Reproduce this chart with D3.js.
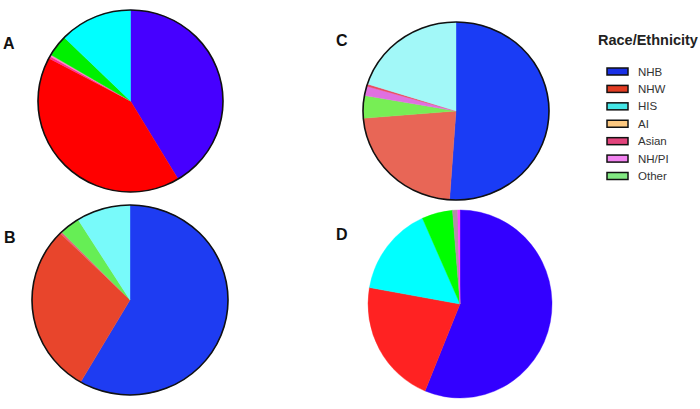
<!DOCTYPE html>
<html>
<head>
<meta charset="utf-8">
<script src="https://cdn.jsdelivr.net/npm/d3@7"></script>
<style>
  body { margin: 0; background: #fff; }
  text { font-family: "Liberation Sans", Arial, sans-serif; }
</style>
</head>
<body>
<script>
// legend
var legendLabels = ["NHB", "NHW", "HIS", "AI", "Asian", "NH/PI", "Other"];
var legendColors = ["#1a30e6", "#e23c22", "#44e6e6", "#fcc880", "#e2447c", "#f283f0", "#82e882"];

// panel A (percent, clockwise from 12 o'clock)
var pieA_groups = ["NHB", "NHW", "Asian", "NH/PI", "Other", "HIS"];
var pieA_values = [41.4, 41.4, 0.4, 0.3, 3.8, 12.7];
var pieA_colors = ["#4600ff", "#ff0000", "#ff2a90", "#ff88c8", "#00f000", "#00ffff"];

// panel B
var pieB_groups = ["NHB", "NHW", "Asian", "Other", "HIS"];
var pieB_values = [58.4, 29.0, 0.3, 3.4, 8.9];
var pieB_colors = ["#1e3cf2", "#e8452c", "#ea5a78", "#66ee55", "#78fafa"];

// panel C
var pieC_groups = ["NHB", "NHW", "Other", "NH/PI", "Asian", "HIS"];
var pieC_values = [51.1, 22.6, 4.1, 1.7, 0.4, 20.1];
var pieC_colors = ["#1a3cf5", "#e86656", "#77ee55", "#e070e0", "#ea4a62", "#a2f8f8"];

// panel D
var pieD_groups = ["NHB", "NHW", "HIS", "Other", "AI", "NH/PI"];
var pieD_values = [56.2, 21.6, 15.5, 5.4, 0.9, 0.4];
var pieD_colors = ["#3300ff", "#ff2222", "#00ffff", "#00ff00", "#b48ea8", "#ff44ff"];

var width = 700, height = 409;

var svg = d3.select("body").append("svg")
    .attr("width", width)
    .attr("height", height);

var panels = [
  {name: "A", groups: pieA_groups, values: pieA_values, colors: pieA_colors,
   cx: 130.5, cy: 101, rx: 92.5, ry: 91, outline: true, lx: 3, ly: 49},
  {name: "B", groups: pieB_groups, values: pieB_values, colors: pieB_colors,
   cx: 130, cy: 300, rx: 98, ry: 95, outline: true, lx: 4, ly: 243},
  {name: "C", groups: pieC_groups, values: pieC_values, colors: pieC_colors,
   cx: 456, cy: 111, rx: 93, ry: 89, outline: true, lx: 336, ly: 46},
  {name: "D", groups: pieD_groups, values: pieD_values, colors: pieD_colors,
   cx: 460, cy: 304, rx: 92, ry: 94, outline: false, lx: 336, ly: 240}
];

var pie = d3.pie().sort(null).value(function(d) { return d.v; });

panels.forEach(function(p) {
  var data = p.values.map(function(v, i) { return {g: p.groups[i], v: v, c: p.colors[i]}; });
  var arc = d3.arc().innerRadius(0).outerRadius(p.rx);

  var g = svg.append("g")
      .attr("transform", "translate(" + p.cx + "," + p.cy + ") scale(1," + (p.ry / p.rx) + ")");

  g.selectAll("path.slice")
    .data(pie(data))
    .enter().append("path")
      .attr("class", "slice")
      .attr("d", arc)
      .attr("fill", function(d) { return d.data.c; })
      .attr("stroke", function(d) { return d.data.c; })
      .attr("stroke-width", 0.4);

  if (p.outline) {
    g.append("circle")
      .attr("r", p.rx)
      .attr("fill", "none")
      .attr("stroke", "#111")
      .attr("stroke-width", 1.6);
  }

  svg.append("text")
    .attr("x", p.lx)
    .attr("y", p.ly)
    .attr("font-size", "16px")
    .attr("font-weight", "bold")
    .attr("fill", "#111")
    .text(p.name);
});

// legend
svg.append("text")
  .attr("x", 598)
  .attr("y", 45)
  .attr("font-size", "14.5px")
  .attr("font-weight", "bold")
  .attr("fill", "#222")
  .text("Race/Ethnicity");

var ly = d3.scalePoint().domain(legendLabels).range([71.5, 176]);

var item = svg.selectAll("g.legend")
  .data(legendLabels)
  .enter().append("g")
    .attr("class", "legend")
    .attr("transform", function(d) { return "translate(0," + ly(d) + ")"; });

item.append("rect")
  .attr("x", 607)
  .attr("y", -3.5)
  .attr("width", 21)
  .attr("height", 7)
  .attr("fill", function(d, i) { return legendColors[i]; })
  .attr("stroke", "#111")
  .attr("stroke-width", 1.5);

item.append("text")
  .attr("x", 638)
  .attr("y", 4)
  .attr("font-size", "11.5px")
  .attr("fill", "#333")
  .text(function(d) { return d; });
</script>
</body>
</html>
